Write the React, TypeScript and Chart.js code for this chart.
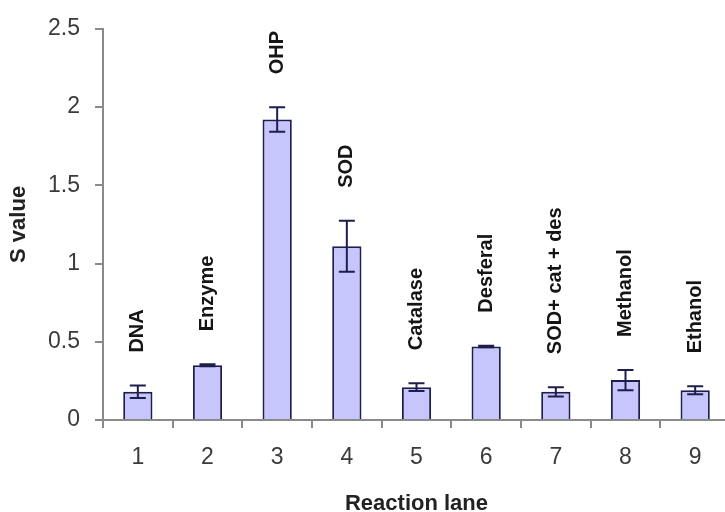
import React, { useEffect, useRef } from "react";
import { Chart, registerables } from "chart.js";

Chart.register(...registerables);

const lanes = ["1", "2", "3", "4", "5", "6", "7", "8", "9"];
const treatments = ["DNA", "Enzyme", "OHP", "SOD", "Catalase", "Desferal", "SOD+ cat + des", "Methanol", "Ethanol"];
const sValues = [0.18, 0.35, 1.92, 1.11, 0.21, 0.47, 0.18, 0.255, 0.19];
const sErrors = [0.04, 0.006, 0.078, 0.163, 0.025, 0.005, 0.03, 0.065, 0.025];
const yTicks = [0, 0.5, 1, 1.5, 2, 2.5];

const FONT = "'Liberation Sans', Arial, sans-serif";
const NAVY = "#1e1e4e";
const AXIS = "#8a8a8a";

const errorBarPlugin = {
  id: "errorBars",
  afterDatasetsDraw(chart: any) {
    const { ctx, scales } = chart;
    const meta = chart.getDatasetMeta(0);
    const y = scales.y;
    ctx.save();
    ctx.strokeStyle = NAVY;
    ctx.lineWidth = 2;
    meta.data.forEach((bar: any, i: number) => {
      const x = bar.x;
      const yTop = y.getPixelForValue(sValues[i] + sErrors[i]);
      const yBot = y.getPixelForValue(sValues[i] - sErrors[i]);
      const cap = 8;
      ctx.beginPath();
      ctx.moveTo(x, yTop);
      ctx.lineTo(x, yBot);
      ctx.moveTo(x - cap, yTop);
      ctx.lineTo(x + cap, yTop);
      ctx.moveTo(x - cap, yBot);
      ctx.lineTo(x + cap, yBot);
      ctx.stroke();
    });
    // rotated treatment labels above bars
    ctx.fillStyle = "#151515";
    ctx.font = `bold 20px ${FONT}`;
    ctx.textAlign = "left";
    ctx.textBaseline = "middle";
    meta.data.forEach((bar: any, i: number) => {
      const yTop = y.getPixelForValue(sValues[i] + sErrors[i]);
      ctx.save();
      ctx.translate(bar.x, yTop - 33);
      ctx.rotate(-Math.PI / 2);
      ctx.fillText(treatments[i], 0, 0);
      ctx.restore();
    });
    ctx.restore();
  },
};

export default function App() {
  const canvasRef = useRef<HTMLCanvasElement | null>(null);

  useEffect(() => {
    document.body.style.margin = "0";
    const chart = new Chart(canvasRef.current as HTMLCanvasElement, {
      type: "bar",
      data: {
        labels: lanes,
        datasets: [
          {
            data: sValues,
            backgroundColor: "#c6c6fc",
            borderColor: NAVY,
            borderWidth: 2,
            barPercentage: 0.42,
            categoryPercentage: 1,
          },
        ],
      },
      options: {
        animation: false,
        responsive: true,
        maintainAspectRatio: false,
        layout: { padding: { top: 24, left: 0, right: 0, bottom: 0 } },
        plugins: { legend: { display: false }, tooltip: { enabled: false } },
        scales: {
          x: {
            offset: true,
            grid: { drawOnChartArea: false, drawTicks: true, tickLength: 8, color: AXIS, lineWidth: 2, offset: true },
            border: { color: AXIS, width: 2 },
            ticks: { color: "#3a3a3a", font: { family: FONT, size: 23 }, padding: 16 },
            title: {
              display: true,
              text: "Reaction lane",
              color: "#222",
              font: { family: FONT, size: 22, weight: "bold", lineHeight: 0.7 },
              padding: { top: 0, bottom: 0 },
            },
            afterFit: (s: any) => {
              s.height = 92;
            },
          },
          y: {
            min: 0,
            max: 2.5,
            afterBuildTicks: (s: any) => {
              s.ticks = yTicks.map((v) => ({ value: v }));
            },
            grid: { drawOnChartArea: false, drawTicks: true, tickLength: 8, color: AXIS, lineWidth: 2 },
            border: { color: AXIS, width: 2 },
            ticks: {
              color: "#3a3a3a",
              font: { family: FONT, size: 23 },
              padding: 15,
              callback: (v: any) => String(v),
            },
            title: {
              display: true,
              text: "S value",
              color: "#222",
              font: { family: FONT, size: 22, weight: "bold" },
              padding: { top: 6, bottom: 0 },
            },
            afterFit: (s: any) => {
              s.width = 103;
            },
          },
        },
      },
      plugins: [errorBarPlugin],
    });
    return () => chart.destroy();
  }, []);

  return (
    <div style={{ position: "fixed", left: 0, top: 0, width: 725, height: 512, overflow: "hidden", background: "#fff" }}>
      <div style={{ position: "relative", width: 730, height: 512 }}>
        <canvas ref={canvasRef} />
      </div>
    </div>
  );
}
